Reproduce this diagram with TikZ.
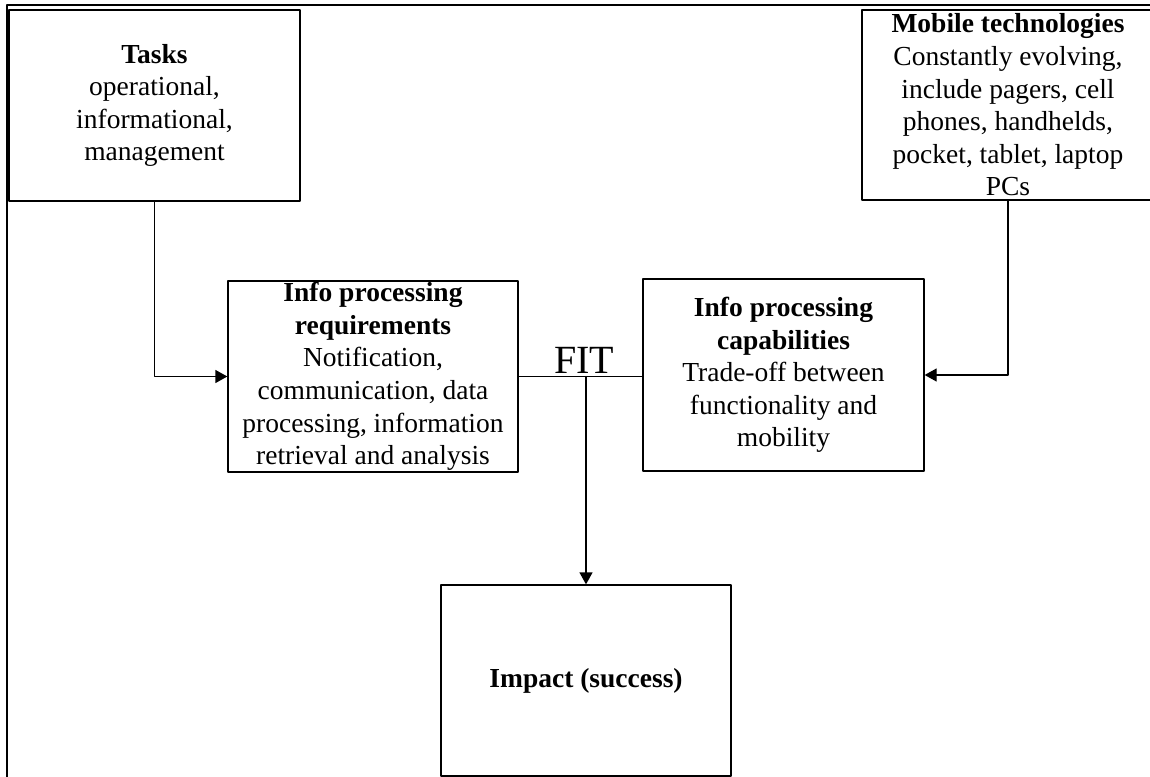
\documentclass[tikz,border=0pt]{standalone}
\usepackage{fontspec}
\setmainfont{Liberation Serif}
\usetikzlibrary{arrows.meta}

\tikzset{
  block/.style={draw, line width=1.3pt, inner sep=0pt, align=center,
    font=\fontsize{27.5}{32.6}\selectfont},
  link/.style={line width=1.3pt, -{Triangle[length=12pt,width=13pt]}}
}

\begin{document}
\begin{tikzpicture}[line cap=round, line join=round, x=1pt, y=-1pt]

                \clip (0,0) rectangle (1150,776);
                \draw[line width=2pt] (7,5) rectangle (1160,790);

                \node[block, minimum width=291pt, minimum height=191pt] (tasks) at (154.5,105.5)
                    {\textbf{Tasks}\\operational,\\informational,\\management};
                \node[block, minimum width=292pt, minimum height=190pt] (mobile) at (1008,105)
                    {\textbf{Mobile technologies}\\Constantly evolving,\\include pagers, cell\\phones, handhelds,\\pocket, tablet, laptop\\PCs};

                \node[block, minimum width=290pt, minimum height=191pt] (req) at (373,376.5)
                    {\textbf{Info processing}\\\textbf{requirements}\\Notification,\\communication, data\\processing, information\\retrieval and analysis};
                \node[block, minimum width=281pt, minimum height=192pt] (cap) at (783.5,375)
                    {\textbf{Info processing}\\\textbf{capabilities}\\Trade-off between\\functionality and\\mobility};

                \node[block, minimum width=290pt, minimum height=191pt] (impact) at (586,680.5)
                    {\textbf{Impact (success)}};

                \node[font=\fontsize{40}{40}\selectfont, anchor=base, inner sep=0pt] (fit) at (584,373) {FIT};

                \draw[link] (tasks.south) |- (req.west);
                \draw[link] (mobile.south) |- (cap.east);
                \draw[line width=1.3pt] (req.east) -- (req.east -| cap.west);
                \draw[link] (req.east -| impact.north) -- (impact.north);

            \end{tikzpicture}
\end{document}
